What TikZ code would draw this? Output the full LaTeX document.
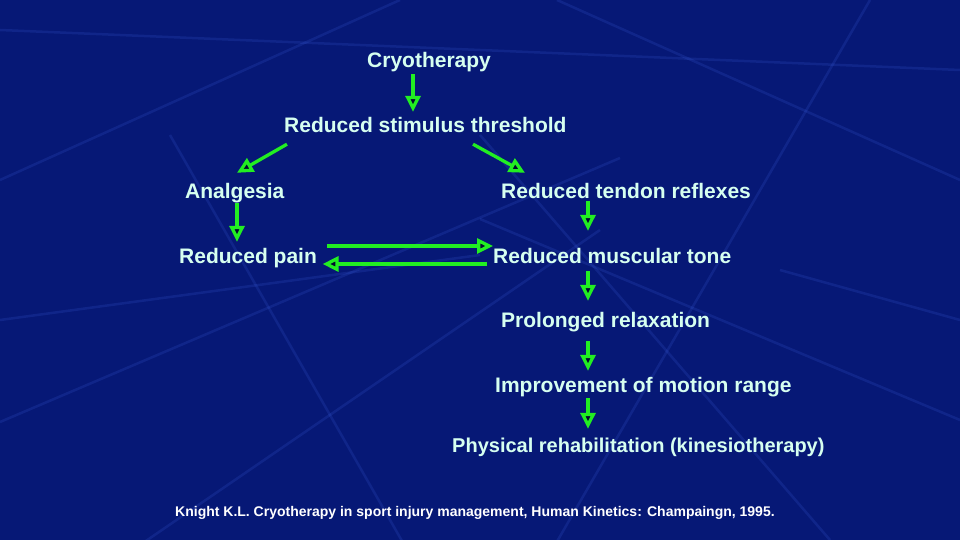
\documentclass[tikz,border=0pt]{standalone}
\usepackage{fontspec}
\setmainfont{Liberation Sans}
\usepackage{tikz}
\usetikzlibrary{arrows.meta, calc}
\definecolor{SlideNavy}{RGB}{6,24,118}
\definecolor{SlideGlow}{RGB}{70,110,240}
\definecolor{ArrGreen}{RGB}{34,238,34}
\definecolor{TxtCyan}{RGB}{214,255,240}

\begin{document}
\begin{tikzpicture}[x=1pt, y=-1pt,
          lbl/.style={anchor=base west, inner sep=0pt, text height=15pt, text depth=4.5pt,
                      font=\fontsize{21}{24}\selectfont\bfseries, TxtCyan},
          arr/.style={-{Triangle[length=16pt, width=15pt, fill=SlideNavy!40!black]},
                      ArrGreen, line width=3.3pt},
          glow/.style={SlideGlow, line width=2.5pt, opacity=0.16}
        ]
        % Slide background
        \useasboundingbox (0,0) rectangle (960,540);
        \fill[SlideNavy] (0,0) rectangle (960,540);
        \begin{scope}
          \clip (0,0) rectangle (960,540);
          \draw[glow] (170,135) -- (410,555);
          \draw[glow] (0,422) -- (620,158);
          \draw[glow] (0,320) -- (480,255);
          \draw[glow] (140,545) -- (600,230);
          \draw[glow] (555,545) -- (870,0);
          \draw[glow] (480,135) -- (830,540);
          \draw[glow] (480,219) -- (960,420);
          \draw[glow] (780,270) -- (960,320);
          \draw[glow] (400,0) -- (0,180);
          \draw[glow] (557,0) -- (960,180);
          \draw[glow] (0,30) -- (960,70);
        \end{scope}

        % Top of the chain
        \node[lbl] (cryo) at (367,68)  {Cryotherapy};
        \node[lbl] (thr)  at (284,133) {Reduced stimulus threshold};

        % Left branch
        \node[lbl] (anal) at (185,198) {Analgesia};
        \node[lbl] (pain) at (179,263) {Reduced pain};

        % Right branch
        \node[lbl] (tend) at (501,198) {Reduced tendon reflexes};
        \node[lbl] (tone) at (493,263) {Reduced muscular tone};
        \node[lbl] (prol) at (501,327) {Prolonged relaxation};
        \node[lbl] (impr) at (495,392) {Improvement of motion range};
        \node[lbl, font=\fontsize{20}{24}\selectfont\bfseries] (phys) at (452,452)
              {Physical rehabilitation (kinesiotherapy)};

        % Source
        \node[lbl, font=\fontsize{14}{16}\selectfont\bfseries, white,
              text height=10pt, text depth=3pt] (ref) at (175,516)
              {Knight K.L. Cryotherapy in sport injury management, Human Kinetics: Champaingn, 1995.};

        \draw[arr] ($(cryo.south west)+(46,1.5)$) -- ($(thr.north west)+(129,-6)$);
        \draw[arr] ($(thr.south west)+(3,6.5)$)   -- ($(anal.north west)+(52,-10)$);
        \draw[arr] ($(thr.south west)+(189,6.5)$) -- ($(tend.north west)+(24,-10)$);
        \draw[arr] ($(anal.south west)+(52,0.5)$) -- ($(pain.north west)+(58,-6)$);
        \draw[arr] ($(pain.east)+(10,-11.75)$)    -- ($(tone.west)+(0,-11.75)$);
        \draw[arr] ($(tone.west)+(-6,6.25)$)      -- ($(pain.east)+(5.5,6.25)$);
        \draw[arr] ($(tend.south west)+(87,-2)$)  -- ($(tone.north west)+(95,-17)$);
        \draw[arr] ($(tone.south west)+(95,3.5)$) -- ($(prol.north west)+(87,-11)$);
        \draw[arr] ($(prol.south west)+(87,9.5)$) -- ($(impr.north west)+(93,-6)$);
        \draw[arr] ($(impr.south west)+(93,1.5)$) -- ($(phys.north west)+(136,-8)$);
      \end{tikzpicture}
\end{document}
